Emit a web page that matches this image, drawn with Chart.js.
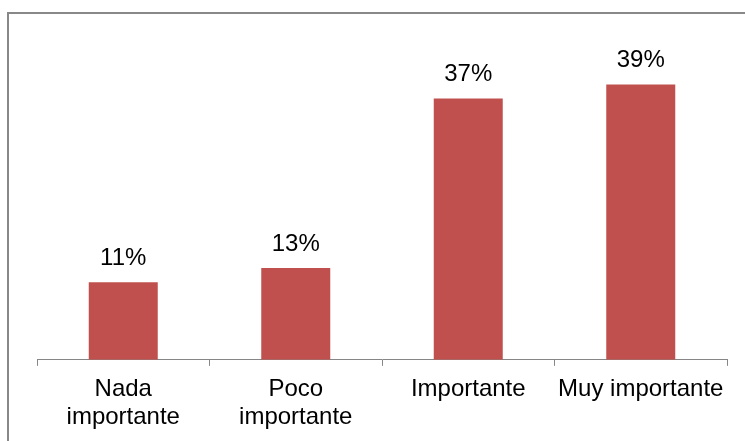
<!DOCTYPE html>
<html>
<head>
<meta charset="utf-8">
<script src="https://cdn.jsdelivr.net/npm/chart.js@4.4.1/dist/chart.umd.min.js"></script>
<style>
  html, body { margin: 0; padding: 0; background: #fff; overflow: hidden; }
  #frame {
    position: absolute; left: 7px; top: 12px;
    width: 800px; height: 500px;
    border: 2px solid #888888;
  }
  #wrap { position: absolute; left: 0; top: 0; width: 745px; height: 441px; }
</style>
</head>
<body>
<div id="frame"></div>
<div id="wrap"><canvas id="chart" width="745" height="441"></canvas></div>
<script>
// Categories and percentages
const categories = [["Nada", "importante"], ["Poco", "importante"], "Importante", "Muy importante"];
const percentages = [11, 13, 37, 39];

const barColor = "#C0504D";
const axisColor = "#868686";
const fontFamily = "'Liberation Sans', Arial, sans-serif";

// Draws the "NN%" label above each bar
const barValueLabels = {
    id: "barValueLabels",
    afterDatasetsDraw(chart) {
        const ctx = chart.ctx;
        const meta = chart.getDatasetMeta(0);
        ctx.save();
        ctx.font = "24px " + fontFamily;
        ctx.fillStyle = "#000";
        ctx.textAlign = "center";
        ctx.textBaseline = "bottom";
        meta.data.forEach((bar, i) => {
            ctx.fillText(percentages[i] + "%", bar.x, bar.y - 12);
        });
        ctx.restore();
    }
};

new Chart(document.getElementById("chart"), {
    type: "bar",
    data: {
        labels: categories,
        datasets: [{
            data: percentages,
            backgroundColor: barColor,
            borderWidth: 0,
            barPercentage: 0.4,
            categoryPercentage: 1.0
        }]
    },
    options: {
        responsive: false,
        animation: false,
        layout: { padding: { left: 37, right: 18, top: 42, bottom: 1 } },
        plugins: {
            legend: { display: false },
            tooltip: { enabled: false }
        },
        scales: {
            x: {
                border: { color: axisColor, width: 1 },
                grid: {
                    offset: true,
                    drawOnChartArea: false,
                    drawTicks: true,
                    tickLength: 6,
                    color: axisColor
                },
                ticks: {
                    color: "#000",
                    padding: 9,
                    maxRotation: 0,
                    autoSkip: false,
                    font: { family: fontFamily, size: 24, lineHeight: 1.17 }
                }
            },
            y: {
                display: false,
                min: 0,
                max: 45
            }
        }
    },
    plugins: [barValueLabels]
});
</script>
</body>
</html>
